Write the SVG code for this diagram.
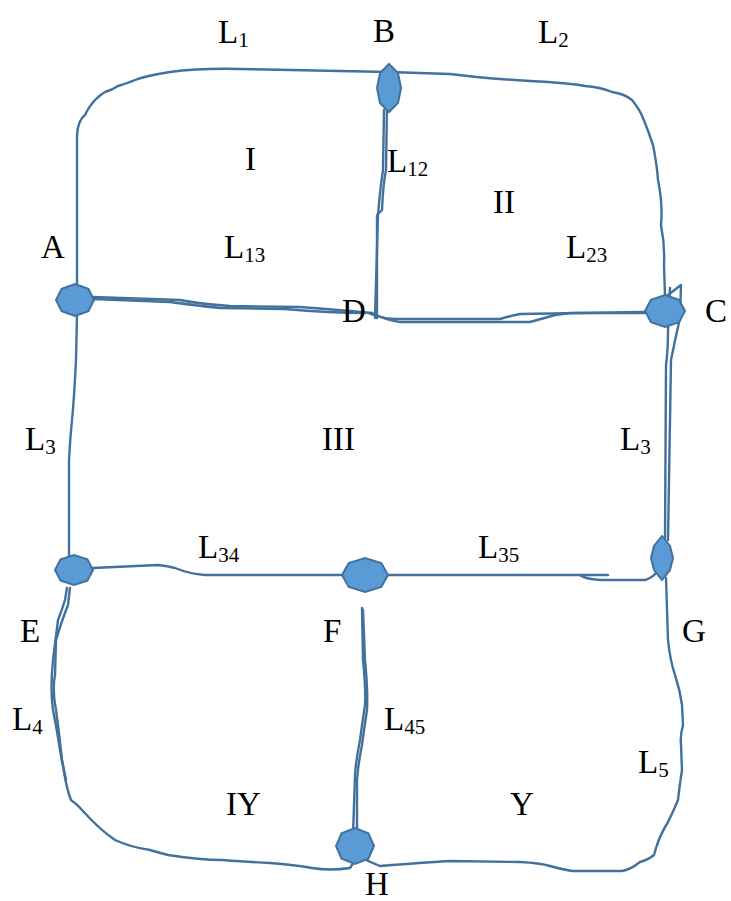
<svg xmlns="http://www.w3.org/2000/svg" width="731" height="901" viewBox="0 0 731 901">
<style>
.e{fill:none;stroke:#41719C;stroke-width:2.4;stroke-linejoin:round;stroke-linecap:round}
.n{fill:#5B9BD5;stroke:#41719C;stroke-width:2}
text{font-family:"Liberation Serif","Times New Roman",serif;font-size:33px;fill:#000}
.s{font-size:21px}
</style>
<rect width="731" height="901" fill="#fff"/>
<g id="connectors">
<path class="e" d="M77,292 L77,135 Q78,120 85,115 Q88,108 95,100 Q100,95 105,92 Q112,90 118,86 Q125,84 135,80 Q145,76 170,72 Q200,68 240,69 L389,72 L450,74 Q480,78 530,81 Q570,83 585,86 Q600,87 612,92 Q625,94 632,100 Q640,110 643,118 Q648,130 653,145 Q657,165 658,180 Q663,205 661,225 Q665,245 664,265 L665,296"/>
<path class="e" d="M387,105 L386,170 Q383,185 382,210 L377,215 L377,318"/>
<path class="e" d="M384,110 L383,170 Q380,190 378,215 L375,318"/>
<path class="e" d="M93,297 L180,300 Q200,304 230,306 L300,307 Q340,310 372,313"/>
<path class="e" d="M93,299 L170,302 Q200,306 220,308 L285,309 Q330,313 365,313"/>
<path class="e" d="M368,313 Q380,318 395,319 L500,319 Q510,316 520,314 L645,312"/>
<path class="e" d="M372,313 Q385,320 400,322 L530,322 Q545,318 555,315 L570,313 L645,313"/>
<path class="e" d="M670,288 L668,330 Q668,350 666,365 L665,540"/>
<path class="e" d="M668,295 L681,285 L680,318 Q675,340 671,360 L668,540"/>
<path class="e" d="M77,315 L76,360 Q74,400 72,420 Q70,440 69,460 L69,560"/>
<path class="e" d="M93,568 L158,565 Q168,566 175,568 Q190,574 205,575 L345,575"/>
<path class="e" d="M388,575 L608,575"/>
<path class="e" d="M580,575 Q585,579 600,580 L645,580 Q652,578 657,572"/>
<path class="e" d="M666,578 L668,640 Q670,660 675,675 Q680,690 682,705 L683,725 Q680,735 681,745 L682,770 Q679,790 678,800 Q673,812 668,822 Q660,835 656,848 L654,855 Q648,860 640,862 Q630,870 622,871 L572,871 Q560,869 550,866 Q540,863 520,862 L450,861 Q430,862 380,866 Q370,862 362,858"/>
<path class="e" d="M67,588 L65,600 Q62,610 58,620 L53,660 Q50,690 53,710 Q57,730 60,750 L64,772 Q67,790 71,800 Q78,805 82,810 Q100,830 115,840 Q130,847 150,850 Q160,853 168,855 Q200,860 222,860 Q250,862 270,863 Q295,865 312,868 Q330,871 350,868 L355,860"/>
<path class="e" d="M70,588 L68,605 Q62,620 56,640 L55,675 Q52,690 56,710 Q60,740 62,760 L66,780"/>
<path class="e" d="M362,608 L363,660 Q366,690 365,705 Q362,725 360,740 Q356,760 355,775 L353,835"/>
<path class="e" d="M363,610 L365,660 Q368,690 367,710 Q364,730 362,745 Q358,765 357,780 L357,835"/>
</g>
<g id="A"><polygon class="n" points="94,300 88.4,288.7 75,284 61.6,288.7 56,300 61.6,311.3 75,316 88.4,311.3"/><text x="41" y="258">A</text></g>
<g id="B"><polygon class="n" points="389,64 398,73 401,88 398,103 389,112 380,103 377,88 380,73"/><text x="373" y="42">B</text></g>
<g id="C"><polygon class="n" points="685,311 679.1,299.7 665,295 650.9,299.7 645,311 650.9,322.3 665,327 679.1,322.3"/><text x="705" y="322">C</text></g>
<g id="D"><text x="342" y="322">D</text></g>
<g id="E"><polygon class="n" points="93,570 87.4,559.4 74,555 60.6,559.4 55,570 60.6,580.6 74,585 87.4,580.6"/><text x="20" y="642">E</text></g>
<g id="F"><polygon class="n" points="388,575 381.3,563 365,558 348.7,563 342,575 348.7,587 365,592 381.3,587"/><text x="323" y="642">F</text></g>
<g id="G"><polygon class="n" points="662,536 670,546 673,558 670,570 662,580 654,570 651,558 654,546"/><text x="682" y="642">G</text></g>
<g id="H"><polygon class="n" points="374,846 368.4,833.3 355,828 341.6,833.3 336,846 341.6,858.7 355,864 368.4,858.7"/><text x="365" y="895">H</text></g>
<g id="labels">
<text x="218" y="43">L<tspan class="s" dy="4">1</tspan></text>
<text x="538" y="43">L<tspan class="s" dy="4">2</tspan></text>
<text x="245" y="170">I</text>
<text x="387" y="172">L<tspan class="s" dy="4">12</tspan></text>
<text x="493" y="213">II</text>
<text x="224" y="258">L<tspan class="s" dy="4">13</tspan></text>
<text x="566" y="258">L<tspan class="s" dy="4">23</tspan></text>
<text x="25" y="450">L<tspan class="s" dy="4">3</tspan></text>
<text x="322" y="450">III</text>
<text x="620" y="450">L<tspan class="s" dy="4">3</tspan></text>
<text x="198" y="558">L<tspan class="s" dy="4">34</tspan></text>
<text x="478" y="558">L<tspan class="s" dy="4">35</tspan></text>
<text x="12" y="730">L<tspan class="s" dy="4">4</tspan></text>
<text x="384" y="730">L<tspan class="s" dy="4">45</tspan></text>
<text x="638" y="773">L<tspan class="s" dy="4">5</tspan></text>
<text x="226" y="815">IY</text>
<text x="510" y="815">Y</text>
</g>
</svg>
